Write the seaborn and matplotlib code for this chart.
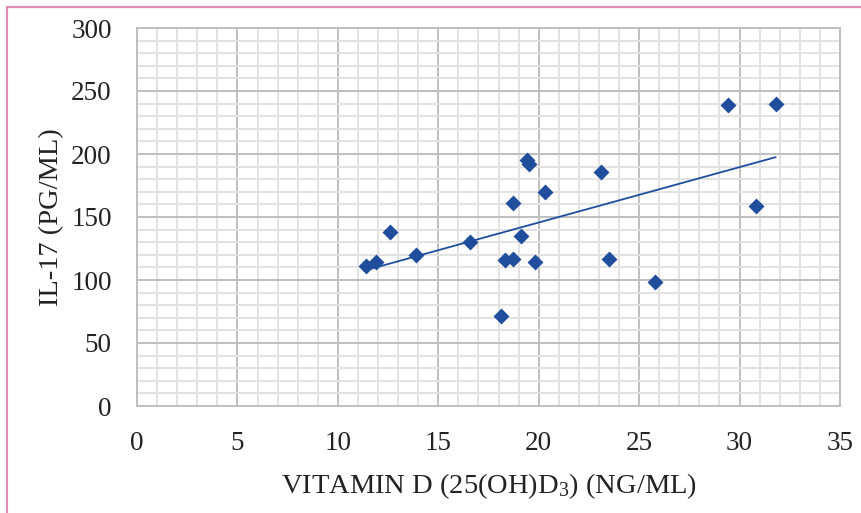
import numpy as np
import pandas as pd
import seaborn as sns
import matplotlib
matplotlib.use("Agg")
import matplotlib.pyplot as plt
from matplotlib.lines import Line2D
from matplotlib.ticker import MultipleLocator

# Data
vitamin_d = [11.4, 11.9, 12.6, 13.9, 16.6, 18.1, 18.3, 18.7, 18.7, 19.1,
             19.4, 19.5, 19.8, 20.3, 23.1, 23.5, 25.8, 29.4, 30.8, 31.8]
il17 = [111.5, 114, 138, 120, 130, 71.5, 116, 161.5, 117, 135,
        195, 192, 114, 170, 186, 117, 98.5, 239, 158.5, 240]

x_ticks = [0, 5, 10, 15, 20, 25, 30, 35]
y_ticks = [0, 50, 100, 150, 200, 250, 300]
x_label = "VITAMIN D (25(OH)D$_3$) (NG/ML)"
y_label = "IL-17 (PG/ML)"

df = pd.DataFrame({"vitd": vitamin_d, "il17": il17})

sns.set_style("white")
plt.rcParams["font.family"] = ["Liberation Serif", "DejaVu Serif"]
plt.rcParams["mathtext.fontset"] = "custom"
plt.rcParams["mathtext.rm"] = "Liberation Serif"
plt.rcParams["mathtext.it"] = "Liberation Serif"

W, H = 862, 513
fig = plt.figure(figsize=(W / 100, H / 100), dpi=100)
ax = fig.add_axes([137 / W, 1 - 406 / H, (840 - 137) / W, (406 - 28) / H])

blue = "#1f4e9c"
sns.regplot(data=df, x="vitd", y="il17", ax=ax, ci=None, truncate=True,
            marker="D", color=blue,
            scatter_kws={"s": 66, "linewidths": 0, "zorder": 4, "alpha": 1},
            line_kws={"lw": 1.3, "color": blue, "zorder": 3})

ax.set_xlim(0, 35)
ax.set_ylim(0, 300)
ax.set_xticks(x_ticks)
ax.set_yticks(y_ticks)
ax.xaxis.set_minor_locator(MultipleLocator(1))
ax.yaxis.set_minor_locator(MultipleLocator(10))

ax.grid(which="minor", color="#e2e2e2", lw=1.4, zorder=0)
ax.grid(which="major", color="#bfbfbf", lw=1.4, zorder=1)
ax.set_axisbelow(True)

for s in ax.spines.values():
    s.set_visible(True)
    s.set_color("#bfbfbf")
    s.set_linewidth(1.4)

ax.tick_params(axis="both", which="major", direction="out", color="#bfbfbf",
               width=1.4, labelsize=19.5, labelcolor="#222222")
ax.tick_params(axis="y", which="major", length=7.2, pad=11)
ax.tick_params(axis="x", which="major", length=6, pad=12)
ax.tick_params(which="minor", length=0)

ax.set_xlabel(x_label, fontsize=20.5, color="#222222", labelpad=11)
ax.set_ylabel(y_label, fontsize=20.5, color="#222222", labelpad=5)

# pink frame (left and top edges)
pink = "#e08cb4"
fig.add_artist(Line2D([7.5 / W, 7.5 / W], [0, 1 - 7 / H], transform=fig.transFigure,
                      color=pink, lw=1.6))
fig.add_artist(Line2D([7.5 / W, 1], [1 - 7 / H, 1 - 7 / H], transform=fig.transFigure,
                      color=pink, lw=1.6))

fig.savefig("out.png", dpi=100)
